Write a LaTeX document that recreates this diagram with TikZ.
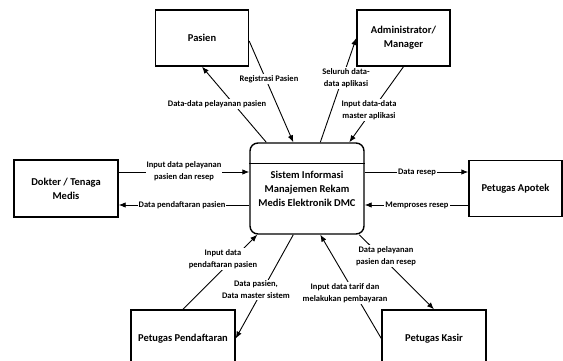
\documentclass[tikz,border=0pt]{standalone}
\usepackage{fontspec}
\setmainfont{Carlito}
\usetikzlibrary{arrows.meta}

\begin{document}
\begin{tikzpicture}[x=1pt,y=-1pt,
    entity/.style={draw, line width=1.4pt, minimum width=93pt, minimum height=56pt, align=center, font=\bfseries\fontsize{10.5}{14}\selectfont},
    flow/.style={-{Latex[length=7pt,width=5.5pt]}, line width=0.9pt},
    lbl/.style={fill=white, inner sep=1pt, align=center, font=\bfseries\fontsize{8.5}{12}\selectfont}]
        \useasboundingbox (0,0) rectangle (563,361);

        \node[entity] (pasien) at (202,38) {Pasien};
        \node[entity] (admin) at (403.5,38) {Administrator/\\Manager};
        \node[entity, minimum width=104pt, minimum height=57pt] (dokter) at (66,188.5) {Dokter / Tenaga\\Medis};
        \node[entity] (apotek) at (515.5,188.5) {Petugas Apotek};
        \node[entity, minimum width=104pt, minimum height=57pt] (daftar) at (183,338.5) {Petugas Pendaftaran};
        \node[entity, minimum width=104pt, minimum height=57pt] (kasir) at (434,338.5) {Petugas Kasir};
        \node[entity, rounded corners=8pt, minimum width=114pt, minimum height=91pt] (sistem) at (307,188.5) {Sistem Informasi\\Manajemen Rekam\\Medis Elektronik DMC};
        \draw[line width=1.4pt] ([yshift=-21pt]sistem.north west) -- ([yshift=-21pt]sistem.north east);

        \draw[flow] ([xshift=17pt]sistem.north west) -- (pasien.south);
        \draw[flow] ([yshift=-3pt]pasien.east) -- ([xshift=44pt]sistem.north west);
        \draw[flow] ([xshift=71pt]sistem.north west) -- (admin.west);
        \draw[flow] (admin.south) -- ([xshift=100pt]sistem.north west);

        \draw[flow] ([yshift=16.5pt]dokter.east) -- ([yshift=16.5pt]sistem.west);
        \draw[flow] ([yshift=-16.5pt]sistem.west) -- ([yshift=-16.5pt]dokter.east);
        \draw[flow] ([yshift=16.5pt]sistem.east) -- ([yshift=16.5pt]apotek.west);
        \draw[flow] ([yshift=-16.5pt]apotek.west) -- ([yshift=-16.5pt]sistem.east);

        \draw[flow] (daftar.north) -- ([xshift=8pt]sistem.south west);
        \draw[flow] ([xshift=44pt]sistem.south west) -- (daftar.east);
        \draw[flow] (kasir.west) -- ([xshift=71pt]sistem.south west);
        \draw[flow] ([xshift=110pt]sistem.south west) -- (kasir.north);

        \node[lbl] (l1) at (217,104) {Data-data pelayanan pasien};
        \node[lbl] (l2) at (269,79) {Registrasi Pasien};
        \node[lbl] (l3) at (346,78) {Seluruh data-\\data aplikasi};
        \node[lbl] (l4) at (369,110) {Input data-data\\master aplikasi};
        \node[lbl] (l5) at (184,171) {Input data pelayanan\\pasien dan resep};
        \node[lbl] (l6) at (182,205) {Data pendaftaran pasien};
        \node[lbl] (l7) at (417,172) {Data resep};
        \node[lbl] (l8) at (417,205) {Memproses resep};
        \node[lbl] (l9) at (223,259) {Input data\\pendaftaran pasien};
        \node[lbl] (l10) at (256,290) {Data pasien,\\Data master sistem};
        \node[lbl] (l11) at (345,293) {Input data tarif dan\\melakukan pembayaran};
        \node[lbl] (l12) at (386,256) {Data pelayanan\\pasien dan resep};
    \end{tikzpicture}
\end{document}
